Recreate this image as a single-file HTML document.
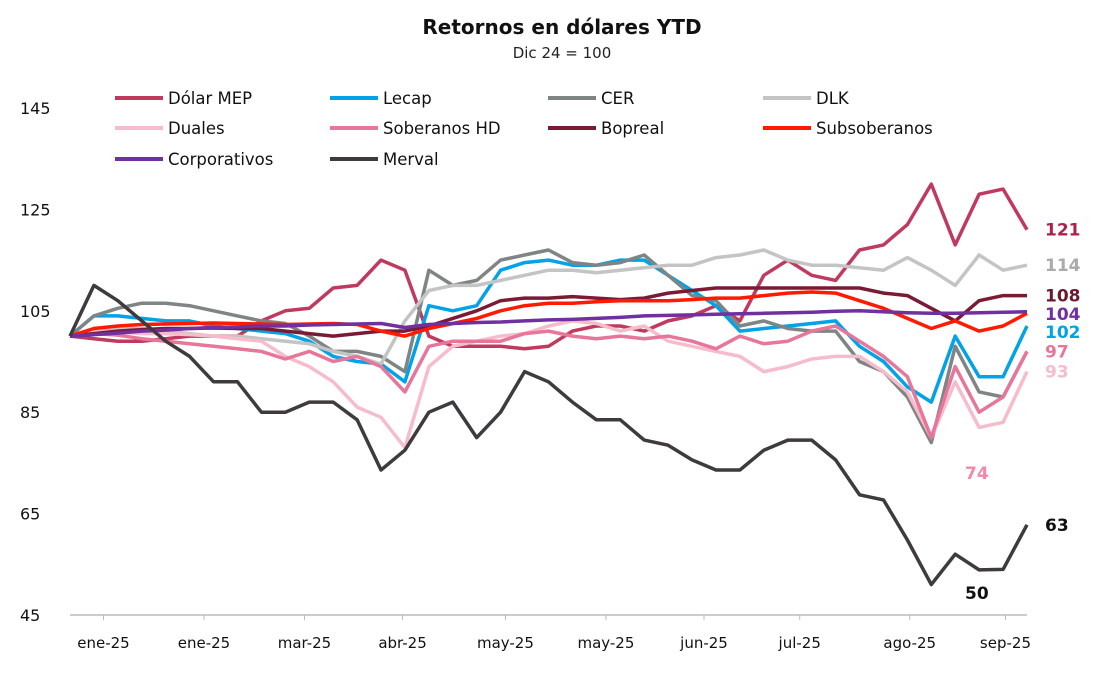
<!DOCTYPE html>
<html><head><meta charset="utf-8"><style>
body{margin:0;background:#fff;font-family:"DejaVu Sans","Liberation Sans",sans-serif;}
svg text{font-family:"DejaVu Sans","Liberation Sans",sans-serif;}
</style></head><body>
<svg id="chart" width="1108" height="684" viewBox="0 0 1108 684" xmlns="http://www.w3.org/2000/svg">
<text x="562" y="34" text-anchor="middle" font-size="20" font-weight="bold" fill="#111">Retornos en dólares YTD</text>
<text x="562" y="58" text-anchor="middle" font-size="15" fill="#222">Dic 24 = 100</text>
<g id="yaxis"></g>
<g id="xaxis"></g>
<g id="series"></g>
<g id="legend"></g>
<g id="labels"></g>
</svg>
<script>
const yTicks=[45,65,85,105,125,145];
const xLabels=["ene-25","ene-25","mar-25","abr-25","may-25","may-25","jun-25","jul-25","ago-25","sep-25"];
const xLabelIdx=[1.4,5.6,9.8,13.9,18.2,22.4,26.5,30.5,35.1,39.1];
const names=["Dólar MEP","Lecap","CER","DLK","Duales","Soberanos HD","Bopreal","Subsoberanos","Corporativos","Merval"];
const mep=[100,99.5,99,99,99.5,100,100,100,103,105,105.5,109.5,110,115,113,100,98,98,98,97.5,98,101,102,102,101,103,104,106,103,112,115,112,111,117,118,122,130,118,128,129,121];
const lecap=[100,104,104,103.5,103,103,102,101.5,101,100.5,99,96,95,94.5,91,106,105,106,113,114.5,115,114,114,115,115,112,109,106,101,101.5,102,102.5,103,98,95,90,87,100,92,92,102];
const cer=[100,104,105.5,106.5,106.5,106,105,104,103,102.5,100,97,97,96,93,113,110,111,115,116,117,114.5,114,114.5,116,112,108,107,102,103,101.5,101,101,95,93,88,79,98,89,88,97];
const dlk=[100,101,101.5,101.5,101,100.5,100,100,99.5,99,98.5,97,96,94.5,103,109,110,110,111,112,113,113,112.5,113,113.5,114,114,115.5,116,117,115,114,114,113.5,113,115.5,113,110,116,113,114];
const duales=[100,101,100.8,100.5,100.5,100.3,100,99.5,99,96,94,91,86,84,78,94,98,99,100,100.5,102,103,102.5,101,102,99,98,97,96,93,94,95.5,96,96,93,89,80,91,82,83,93];
const sobHD=[100,100.5,100.2,99.5,99,98.5,98,97.5,97,95.5,97,95,96,94,89,98,99,99,99,100.5,101,100,99.5,100,99.5,100,99,97.5,100,98.5,99,101,102,99,96,92,80,94,85,88,97];
const bopreal=[100,100.5,101,101.3,101.5,101.5,101.6,101.5,101.5,101,100.5,100,100.5,101,101,102,103.5,105,107,107.5,107.5,107.8,107.5,107.2,107.5,108.5,109,109.5,109.5,109.5,109.5,109.5,109.5,109.5,108.5,108,105.5,103,107,108,108];
const subsob=[100,101.5,102,102.3,102.4,102.5,102.6,102.5,102.4,102.3,102.4,102.5,102.3,101,100,101.5,102.5,103.5,105,106,106.5,106.5,106.8,107,107,107,107.2,107.5,107.5,108,108.5,108.7,108.5,107,105.5,103.5,101.5,103,101,102,104.5];
const corp=[100,100.3,100.6,101,101.2,101.5,101.7,101.8,102,102,102.2,102.3,102.4,102.5,101.7,102.3,102.5,102.7,102.8,103,103.2,103.3,103.5,103.7,104,104.1,104.2,104.3,104.4,104.5,104.6,104.7,104.9,105,104.8,104.6,104.5,104.5,104.6,104.7,104.8];
const merval=[100,110,107,103,99,96,91,91,85,85,87,87,83.5,73.6,77.5,85,87,80,85,93,91,87,83.5,83.5,79.5,78.5,75.6,73.6,73.6,77.5,79.5,79.5,75.6,68.7,67.7,59.8,51,57,53.9,54,62.8];
const endLabels=["121","102","","114","93","97","108","","104","63"];
const extraLabels=["74","50"];

const colors=["#c0395e","#00a3e8","#7f8584","#c4c4c4","#f7bccb","#e8769a","#7b1a35","#ff1a00","#7030a0","#3e3a3d"];
const labelColors=["#b0204a","#00a3e8","#7f8584","#aaaaaa","#f7bccb","#e8769a","#6b1a2e","#ff1a00","#7030a0","#111"];
const slugs=["dolar-mep","lecap","cer","dlk","duales","soberanos-hd","bopreal","subsoberanos","corporativos","merval"];
const allSeries=[mep,lecap,cer,dlk,duales,sobHD,bopreal,subsob,corp,merval];
const NS="http://www.w3.org/2000/svg";
const X0=70,X1=1027,Y45=615,Y145=108;
const xs=i=>X0+(X1-X0)*i/(mep.length-1);
const ys=v=>Y45-(v-45)*(Y45-Y145)/100;
function mk(tag,attrs,parent){const e=document.createElementNS(NS,tag);for(const k in attrs)e.setAttribute(k,attrs[k]);parent.appendChild(e);return e;}
const yg=document.getElementById('yaxis');
yTicks.forEach(t=>{const e=mk('text',{x:20,y:ys(t)+6,'font-size':16,fill:'#111'},yg);e.textContent=t;

});
const xg=document.getElementById('xaxis');
const ax=mk('line',{x1:X0,x2:X1,y1:Y45,y2:Y45,stroke:'#bbb','stroke-width':1.5},xg);


xLabels.forEach((l,k)=>{const x=xs(xLabelIdx[k]);
const t=mk('line',{x1:x,x2:x,y1:Y45,y2:Y45+5,stroke:'#bbb'},xg);


const e=mk('text',{x:x,y:648,'text-anchor':'middle','font-size':15,fill:'#111'},xg);e.textContent=l;

});
const sg=document.getElementById('series');
allSeries.forEach((s,k)=>{const d=s.map((v,i)=>(i?'L':'M')+xs(i).toFixed(1)+' '+ys(v).toFixed(1)).join(' ');
const p=mk('path',{d:d,fill:'none',stroke:colors[k],'stroke-width':3.5,'stroke-linejoin':'round'},sg);

});
const lg=document.getElementById('legend');
const colX=[115,330,548,763],rowY=[98,128,159];
names.forEach((n,k)=>{const cx=colX[k%4],cy=rowY[Math.floor(k/4)];
const g=mk('g',{},lg);


mk('line',{x1:cx,x2:cx+48,y1:cy,y2:cy,stroke:colors[k],'stroke-width':4},g);
const t=mk('text',{x:cx+53,y:cy+6,'font-size':16.5,fill:'#111'},g);t.textContent=n;});
const lb=document.getElementById('labels');
const last=mep.length-1;
endLabels.forEach((l,k)=>{if(!l)return;let y=ys(allSeries[k][last])+6;
if(k===1)y+=6; if(k===8)y+=2;
const e=mk('text',{x:1045,y:y,'font-size':17,'font-weight':'bold',fill:labelColors[k]},lb);e.textContent=l;

});
const e1=mk('text',{x:965,y:479,'font-size':17,'font-weight':'bold',fill:'#f08aa8'},lb);e1.textContent=extraLabels[0];


const e2=mk('text',{x:965,y:599,'font-size':17,'font-weight':'bold',fill:'#111'},lb);e2.textContent=extraLabels[1];


</script>
</body></html>
